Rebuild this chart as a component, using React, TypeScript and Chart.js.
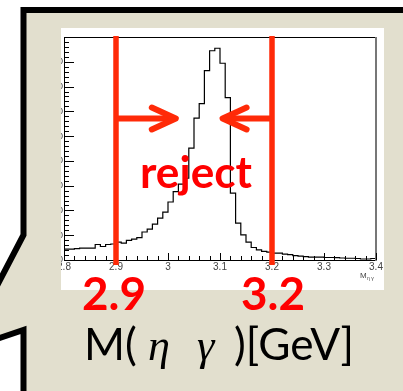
import React, { useEffect, useRef } from 'react';
import { Chart, registerables } from 'chart.js';

Chart.register(...registerables);

// Histogram binning (M(eta gamma) in GeV), 0.01 GeV bins
const binEdges = [
  2.80, 2.81, 2.82, 2.83, 2.84, 2.85, 2.86, 2.87, 2.88, 2.89,
  2.90, 2.91, 2.92, 2.93, 2.94, 2.95, 2.96, 2.97, 2.98, 2.99,
  3.00, 3.01, 3.02, 3.03, 3.04, 3.05, 3.06, 3.07, 3.08, 3.09,
  3.10, 3.11, 3.12, 3.13, 3.14, 3.15, 3.16, 3.17, 3.18, 3.19,
  3.20, 3.21, 3.22, 3.23, 3.24, 3.25, 3.26, 3.27, 3.28, 3.29,
  3.30, 3.31, 3.32, 3.33, 3.34, 3.35, 3.36, 3.37, 3.38, 3.39,
  3.40,
];

const counts = [
  440, 440, 460, 480, 480, 480, 625, 545, 625, 645,
  725, 680, 790, 845, 905, 1130, 1250, 1450, 1690, 1935,
  2340, 2760, 3060, 3300, 4515, 5725, 6310, 7640, 8445, 8545,
  7940, 6550, 2700, 1490, 1010, 725, 505, 405, 345, 320,
  280, 280, 240, 220, 180, 160, 140, 120, 120, 120,
  100, 100, 95, 80, 70, 70, 60, 40, 40, 60,
];

const xTickValues = [2.8, 2.9, 3.0, 3.1, 3.2, 3.3, 3.4];
const xTickLabels = ['2.8', '2.9', '3', '3.1', '3.2', '3.3', '3.4'];
const yTickValues = [0, 1000, 2000, 3000, 4000, 5000, 6000, 7000, 8000, 9000];
const yTickLabels = ['0', '1000', '2000', '3000', '4000', '5000', '6000', '7000', '8000', ''];

const cutLow = 2.9;
const cutHigh = 3.2;
const arrowTipLow = 3.015;
const arrowTipHigh = 3.105;

const W = 403;
const H = 391;
const BEIGE = '#E2DFCE';
const RED_LINE = '#FF2A08';
const RED_TEXT = '#FF0000';

function fitSize(ctx: CanvasRenderingContext2D, text: string, font: (s: number) => string, target: number) {
  ctx.font = font(40);
  const w = ctx.measureText(text).width;
  return (40 * target) / w;
}

const decorPlugin = {
  id: 'decor',
  beforeDraw(chart: any) {
    const ctx: CanvasRenderingContext2D = chart.ctx;
    ctx.save();
    ctx.fillStyle = '#ffffff';
    ctx.fillRect(0, 0, W, H);
    // callout shape
    ctx.beginPath();
    ctx.moveTo(23.5, 235);
    ctx.lineTo(23.5, 10);
    ctx.lineTo(470, 10);
    ctx.lineTo(470, 470);
    ctx.lineTo(23.5, 470);
    ctx.lineTo(23.5, 330);
    ctx.lineTo(-36.5, 350);
    ctx.closePath();
    ctx.fillStyle = BEIGE;
    ctx.fill();
    ctx.lineWidth = 6;
    ctx.strokeStyle = '#000';
    ctx.lineJoin = 'miter';
    ctx.stroke();
    // white picture
    ctx.fillStyle = '#ffffff';
    ctx.fillRect(61, 28, 323, 262);
    ctx.restore();
  },
  afterDatasetsDraw(chart: any) {
    const ctx: CanvasRenderingContext2D = chart.ctx;
    const { left, right, top, bottom } = chart.chartArea;
    const xs = chart.scales.x;
    const ys = chart.scales.y;
    ctx.save();
    const seg = (x1: number, y1: number, x2: number, y2: number) => {
      ctx.beginPath();
      ctx.moveTo(x1, y1);
      ctx.lineTo(x2, y2);
      ctx.stroke();
    };
    // frame
    ctx.strokeStyle = '#000';
    ctx.lineWidth = 1;
    seg(left, top + 0.5, right, top + 0.5);
    seg(left + 0.5, top, left + 0.5, bottom + 1);
    seg(left, bottom + 0.5, right, bottom + 0.5);
    ctx.strokeStyle = '#777';
    ctx.lineWidth = 2;
    seg(right, top, right, bottom + 1);
    // y ticks (inward)
    ctx.strokeStyle = '#000';
    ctx.lineWidth = 1;
    for (let k = 0; k <= 45; k++) {
      const py = Math.round(ys.getPixelForValue(k * 200)) + 0.5;
      const len = k % 5 === 0 ? 10 : 5;
      seg(left, py, left + len, py);
    }
    // x ticks (inward)
    for (let k = 0; k <= 30; k++) {
      const px = Math.round(xs.getPixelForValue(2.8 + k * 0.02)) + 0.5;
      const len = k % 5 === 0 ? 7 : 4;
      seg(px, bottom, px, bottom - len);
    }
    // labels clipped to the picture
    ctx.save();
    ctx.beginPath();
    ctx.rect(61, 28, 323, 262);
    ctx.clip();
    ctx.fillStyle = '#444';
    ctx.font = '10px "Liberation Sans"';
    ctx.textAlign = 'center';
    ctx.textBaseline = 'middle';
    xTickValues.forEach((v, i) => {
      ctx.fillText(xTickLabels[i], xs.getPixelForValue(v), 267);
    });
    ctx.textAlign = 'right';
    ctx.font = '9px "Liberation Sans"';
    yTickValues.forEach((v, i) => {
      ctx.fillText(yTickLabels[i], 63, ys.getPixelForValue(v));
    });
    ctx.textAlign = 'left';
    ctx.textBaseline = 'alphabetic';
    ctx.font = '8px "Liberation Sans"';
    ctx.fillText('M', 360, 278);
    ctx.font = '5px "Liberation Sans"';
    ctx.fillText('\u03B7 \u03B3', 367, 280);
    ctx.restore();

    // red cut lines
    const xl = xs.getPixelForValue(cutLow);
    const xh = xs.getPixelForValue(cutHigh);
    ctx.strokeStyle = RED_LINE;
    ctx.lineWidth = 5.5;
    ctx.lineCap = 'butt';
    seg(xl, top - 1, xl, bottom + 5);
    seg(xh, top - 1, xh, bottom + 5);
    // arrows
    const ay = 118.5;
    const tl = xs.getPixelForValue(arrowTipLow);
    const th = xs.getPixelForValue(arrowTipHigh);
    ctx.lineWidth = 6;
    seg(xl, ay, tl - 3, ay);
    seg(xh, ay, th + 3, ay);
    ctx.lineCap = 'round';
    ctx.lineJoin = 'round';
    ctx.beginPath();
    ctx.moveTo(tl - 24, ay - 11);
    ctx.lineTo(tl, ay);
    ctx.lineTo(tl - 24, ay + 11);
    ctx.stroke();
    ctx.beginPath();
    ctx.moveTo(th + 24, ay - 11);
    ctx.lineTo(th, ay);
    ctx.lineTo(th + 24, ay + 11);
    ctx.stroke();

    // red texts
    ctx.fillStyle = RED_TEXT;
    ctx.textAlign = 'left';
    ctx.textBaseline = 'alphabetic';
    const bold = (s: number) => `bold ${s}px Lato`;
    let s = fitSize(ctx, 'reject', bold, 112);
    ctx.font = bold(s);
    ctx.fillText('reject', 140, 188);
    s = fitSize(ctx, '2.9', bold, 64);
    ctx.font = bold(s);
    ctx.fillText('2.9', 82, 310);
    ctx.fillText('3.2', 241, 310);

    // axis caption
    const reg = (z: number) => `${z}px Lato`;
    const z = fitSize(ctx, ')[GeV]', reg, 120);
    ctx.fillStyle = '#000';
    ctx.font = reg(z);
    ctx.fillText('M(', 84, 360);
    ctx.fillText(')[GeV]', 234, 360);
    ctx.font = `italic ${z}px "Liberation Serif"`;
    ctx.fillText('\u03B7', 148, 360);
    ctx.fillText('\u03B3', 197, 360);
    ctx.restore();
  },
};

export default function App() {
  const ref = useRef<HTMLCanvasElement | null>(null);
  useEffect(() => {
    if (!ref.current) return;
    const points = binEdges.map((x, i) => ({ x, y: counts[Math.min(i, counts.length - 1)] }));
    const chart = new Chart(ref.current, {
      type: 'line',
      data: {
        datasets: [
          {
            data: points,
            borderColor: '#000',
            borderWidth: 1.2,
            pointRadius: 0,
            fill: false,
            stepped: 'before',
            tension: 0,
          },
        ],
      },
      options: {
        responsive: false,
        animation: false,
        devicePixelRatio: 1,
        layout: { padding: { left: 64, top: 37, right: 27, bottom: 131 } },
        plugins: { legend: { display: false }, tooltip: { enabled: false }, title: { display: false } },
        scales: {
          x: { type: 'linear', min: 2.8, max: 3.4, display: false },
          y: { type: 'linear', min: 0, max: 9000, display: false },
        },
      },
      plugins: [decorPlugin],
    } as any);
    return () => chart.destroy();
  }, []);
  return (
    <div style={{ position: 'absolute', left: 0, top: 0, width: W, height: H }}>
      <canvas ref={ref} width={W} height={H} style={{ display: 'block', width: W, height: H }} />
    </div>
  );
}
